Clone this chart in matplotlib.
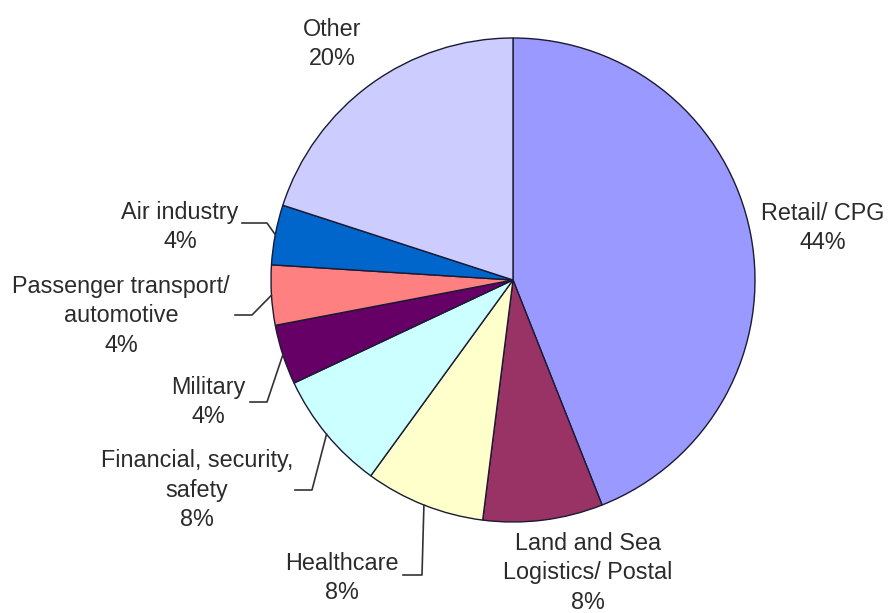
import numpy as np
import matplotlib
matplotlib.use("Agg")
import matplotlib.pyplot as plt

plt.rcParams['font.family'] = ['Liberation Sans', 'DejaVu Sans']

categories = ["Retail/ CPG", "Land and Sea\nLogistics/ Postal", "Healthcare",
              "Financial, security,\nsafety", "Military",
              "Passenger transport/\nautomotive", "Air industry", "Other"]
shares = [44, 8, 8, 8, 4, 4, 4, 20]
colors = ["#9999FF", "#993366", "#FFFFCC", "#CCFFFF",
          "#660066", "#FF8080", "#0066CC", "#CCCCFF"]

W, H = 889, 613
# layout, in pixels from the top left corner
label_pos = [(823, 228), (588, 573), (342, 578), (197, 490),
             (208, 402), (121, 316), (180, 227), (332, 44)]
elbow = [None, None, (422, 575), (312, 490), (267, 402), (252, 315), (267, 223), None]
line_end = [None, None, 403, 295, 250, 235, 242, None]

fig = plt.figure(figsize=(W / 100, H / 100), dpi=100)
ax = fig.add_axes([0, 0, 1, 1])

cx, cy, r = 513, 280, 242
wedges, _ = ax.pie(shares, colors=colors, startangle=90, counterclock=False,
                   center=(cx, H - cy), radius=r,
                   wedgeprops=dict(edgecolor="#1a1a33", linewidth=1))

ax.set_xlim(0, W)
ax.set_ylim(0, H)
ax.set_aspect("equal")
ax.axis("off")

for i, w in enumerate(wedges):
    label = categories[i] + "\n" + str(shares[i]) + "%"
    lx, ly = label_pos[i]
    ax.text(lx, H - ly, label, ha="center", va="center", multialignment="center",
            fontsize=16.8, color="#2b2b2b", linespacing=1.38)
    if elbow[i] is not None:
        mid = np.deg2rad((w.theta1 + w.theta2) / 2)
        sx = cx + r * np.cos(mid)
        sy = (H - cy) + r * np.sin(mid)
        ex, ey = elbow[i]
        ax.plot([sx, ex, line_end[i]], [sy, H - ey, H - ey], color="#333333", lw=1.2)

fig.savefig("out.png", dpi=100)
